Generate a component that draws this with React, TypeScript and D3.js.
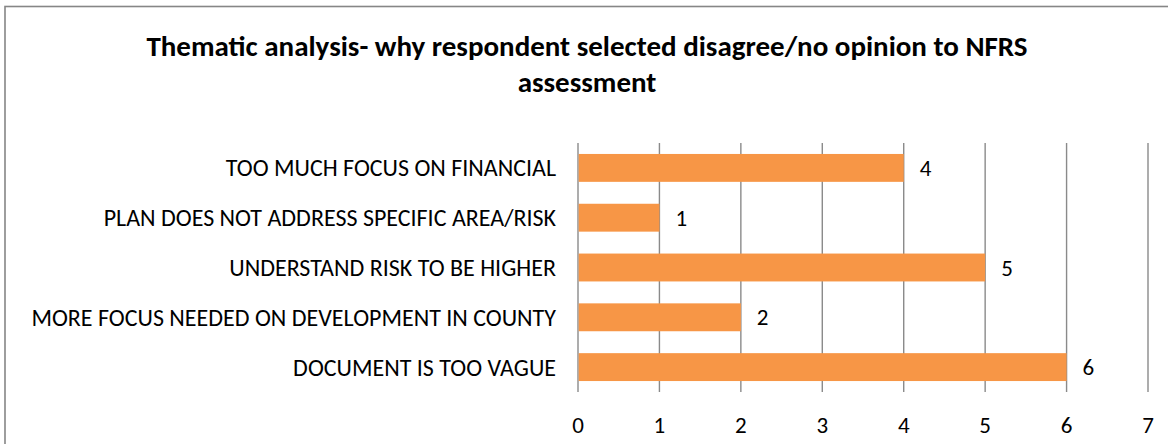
import React from "react";
import * as d3 from "d3";

const categories = [
  "TOO MUCH FOCUS ON FINANCIAL",
  "PLAN DOES NOT ADDRESS SPECIFIC AREA/RISK",
  "UNDERSTAND RISK TO BE HIGHER",
  "MORE FOCUS NEEDED ON DEVELOPMENT IN COUNTY",
  "DOCUMENT IS TOO VAGUE",
];
const values = [4, 1, 5, 2, 6];
const xTicks = [0, 1, 2, 3, 4, 5, 6, 7];
const titleLines = [
  "Thematic analysis- why respondent selected disagree/no opinion to NFRS",
  "assessment",
];

const W = 1168;
const H = 444;
const FONT = "Carlito, Calibri, Lato, sans-serif";

export default function App() {
  const x = d3.scaleLinear().domain([0, 7]).range([578, 1148]);
  const y = d3
    .scaleBand<string>()
    .domain(categories)
    .range([143, 392])
    .paddingInner(0.44)
    .paddingOuter(0.22);
  const bw = y.bandwidth();

  return (
    <svg
      width={W}
      height={H}
      style={{ position: "absolute", left: 0, top: 0, background: "#fff" }}
      fontFamily={FONT}
    >
      <rect x={0} y={0} width={W} height={H} fill="#fff" />
      <rect
        x={5}
        y={6.5}
        width={W + 20}
        height={H + 20}
        fill="none"
        stroke="#868686"
        strokeWidth={1.6}
      />
      {titleLines.map((t, i) => (
        <text
          key={i}
          x={587}
          y={46 + i * 36}
          textAnchor="middle"
          dominantBaseline="central"
          fontWeight="bold"
          fontSize={29}
          fill="#000"
        >
          {t}
        </text>
      ))}
      {xTicks.map((t) => (
        <line
          key={"g" + t}
          x1={x(t)}
          x2={x(t)}
          y1={143}
          y2={392}
          stroke="#8a8a8a"
          strokeWidth={1.4}
        />
      ))}
      {categories.map((c, i) => (
        <rect
          key={"b" + c}
          x={x(0) + 0.7}
          y={y(c)!}
          width={x(values[i]) - x(0) - 0.7}
          height={bw}
          fill="#F79646"
        />
      ))}
      {categories.map((c, i) => (
        <text
          key={"v" + c}
          x={x(values[i]) + 16}
          y={y(c)! + bw / 2}
          dominantBaseline="central"
          fontSize={23}
          fill="#000"
        >
          {values[i]}
        </text>
      ))}
      {categories.map((c) => (
        <text
          key={"l" + c}
          x={556}
          y={y(c)! + bw / 2}
          textAnchor="end"
          dominantBaseline="central"
          fontSize={24}
          fill="#000"
        >
          {c}
        </text>
      ))}
      {xTicks.map((t) => (
        <text
          key={"t" + t}
          x={x(t)}
          y={425}
          textAnchor="middle"
          dominantBaseline="central"
          fontSize={23}
          fill="#000"
        >
          {t}
        </text>
      ))}
    </svg>
  );
}
